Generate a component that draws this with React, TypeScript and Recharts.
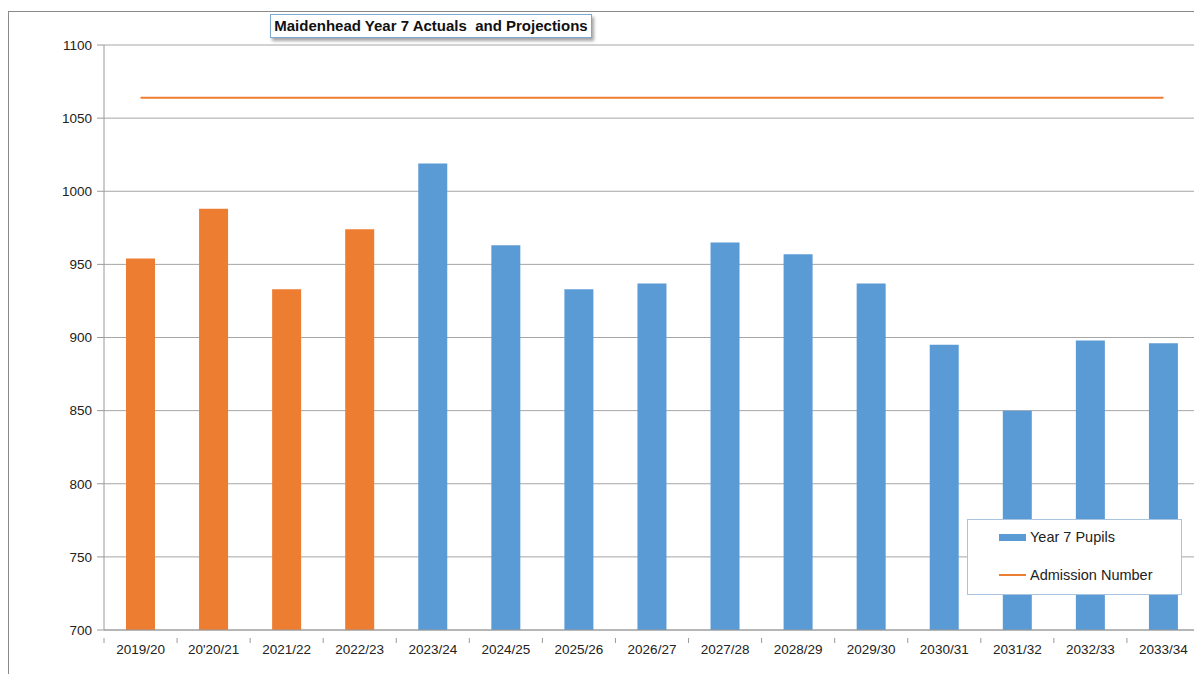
import React from 'react';
import { ComposedChart, Bar, Line, XAxis, YAxis, CartesianGrid, Cell } from 'recharts';

const years = [
  '2019/20', "20'20/21", '2021/22', '2022/23', '2023/24', '2024/25', '2025/26', '2026/27',
  '2027/28', '2028/29', '2029/30', '2030/31', '2031/32', '2032/33', '2033/34',
];
const pupils = [954, 988, 933, 974, 1019, 963, 933, 937, 965, 957, 937, 895, 850, 898, 896];
const admission = [1064, 1064, 1064, 1064, 1064, 1064, 1064, 1064, 1064, 1064, 1064, 1064, 1064, 1064, 1064];
// first four years are actuals, the rest are projections
const actualYears = ['2019/20', "20'20/21", '2021/22', '2022/23'];
const yTicks = [700, 750, 800, 850, 900, 950, 1000, 1050, 1100];

const BLUE = '#5B9BD5';
const ORANGE = '#ED7D31';
const FONT = '"Liberation Sans", Arial, sans-serif';

const W = 1194;
const H = 666;
const margin = { top: 37, right: 2, bottom: 14, left: 0 };
const yAxisWidth = 96;
const band = (W - margin.left - margin.right - yAxisWidth) / years.length;

const data = years.map((year, i) => ({
  year,
  pupils: pupils[i],
  admission: admission[i],
}));

const XTick = (props: any) => {
  const { x, y, payload, index } = props;
  return (
    <g>
      <line x1={x + band / 2} y1={y} x2={x + band / 2} y2={y + 5} stroke="#9a9a9a" />
      {index === 0 && <line x1={x - band / 2} y1={y} x2={x - band / 2} y2={y + 5} stroke="#9a9a9a" />}
      <text x={x} y={y + 16} textAnchor="middle" fontSize={13.5} fill="#222" fontFamily={FONT}>
        {payload.value}
      </text>
    </g>
  );
};

const LegendBox = () => (
  <div
    style={{
      position: 'absolute',
      left: 959,
      top: 511,
      width: 213,
      height: 74,
      background: '#fff',
      border: '1px solid #a9c4e0',
      fontFamily: FONT,
      fontSize: 14.5,
      color: '#222',
    }}
  >
    <div style={{ position: 'absolute', left: 31, top: 9, display: 'flex', alignItems: 'center' }}>
      <span style={{ display: 'inline-block', width: 27, height: 7, background: BLUE, marginRight: 4 }} />
      Year 7 Pupils
    </div>
    <div style={{ position: 'absolute', left: 31, top: 47, display: 'flex', alignItems: 'center' }}>
      <span style={{ display: 'inline-block', width: 27, height: 2, background: ORANGE, marginRight: 4 }} />
      Admission Number
    </div>
  </div>
);

export default function App() {
  return (
    <div style={{ position: 'relative', width: W, height: H, overflow: 'hidden', fontFamily: FONT }}>
      <div
        style={{
          position: 'absolute',
          left: 0,
          top: 3,
          width: 1300,
          height: 800,
          border: '1px solid #8a8a8a',
        }}
      />
      <ComposedChart width={W} height={H} data={data} margin={margin} style={{ position: 'absolute', left: 0, top: 0 }}>
        <CartesianGrid vertical={false} stroke="#a6a6a6" />
        <XAxis
          dataKey="year"
          height={30}
          axisLine={{ stroke: '#9a9a9a' }}
          tickLine={false}
          tick={<XTick />}
          interval={0}
        />
        <YAxis
          width={yAxisWidth}
          domain={[700, 1100]}
          ticks={yTicks}
          allowDataOverflow
          axisLine={{ stroke: '#9a9a9a' }}
          tickLine={{ stroke: '#9a9a9a' }}
          tickSize={7}
          tickMargin={5}
          tick={{ fontSize: 13.5, fill: '#222', fontFamily: FONT }}
        />
        <Bar dataKey="pupils" name="Year 7 Pupils" fill={BLUE} barSize={29} isAnimationActive={false}>
          {data.map((d) => (
            <Cell key={d.year} fill={actualYears.includes(d.year) ? ORANGE : BLUE} />
          ))}
        </Bar>
        <Line
          dataKey="admission"
          name="Admission Number"
          stroke={ORANGE}
          strokeWidth={2}
          dot={false}
          activeDot={false}
          isAnimationActive={false}
        />
      </ComposedChart>
      <LegendBox />
      <div
        style={{
          position: 'absolute',
          left: 262,
          top: 6,
          width: 320,
          height: 22,
          border: '1px solid #7fa7d0',
          boxShadow: '2px 3px 3px rgba(0,0,0,0.35)',
          background: '#fff',
          fontWeight: 'bold',
          fontSize: 15,
          lineHeight: '22px',
          textAlign: 'center',
          color: '#111',
          whiteSpace: 'pre',
        }}
      >
        {'Maidenhead Year 7 Actuals  and Projections'}
      </div>
    </div>
  );
}
